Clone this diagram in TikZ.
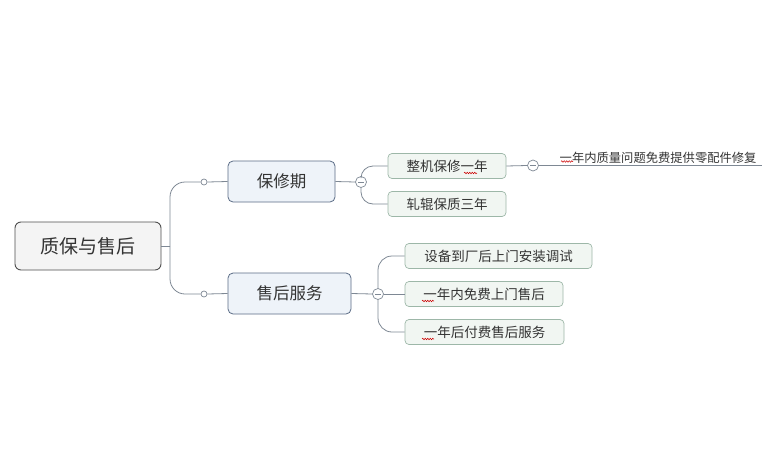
\documentclass[tikz,border=0pt]{standalone}
\usepackage{fontspec}
\setmainfont{Noto Sans CJK SC}
\usetikzlibrary{decorations.pathmorphing}
\definecolor{rootfill}{HTML}{F4F4F4}
\definecolor{rootdraw}{HTML}{4F4F4F}
\definecolor{brfill}{HTML}{EEF3F9}
\definecolor{brdraw}{HTML}{5B6C86}
\definecolor{chfill}{HTML}{F1F6F2}
\definecolor{chdraw}{HTML}{9DB7A8}
\definecolor{conncol}{HTML}{7E8894}
\definecolor{txt}{HTML}{333333}
\tikzset{
  rootbox/.style={draw=rootdraw, fill=rootfill, line width=0.9pt, rounded corners=6pt,
    minimum width=146pt, minimum height=48pt, inner sep=0pt, text=txt, font=\fontsize{19}{22}\selectfont},
  brbox/.style={draw=brdraw, fill=brfill, line width=0.8pt, rounded corners=5pt,
    minimum height=41pt, inner sep=0pt, text=txt, font=\fontsize{16.5}{20}\selectfont},
  chbox/.style={draw=chdraw, fill=chfill, line width=0.7pt, rounded corners=4pt,
    minimum height=25pt, inner sep=0pt, text=txt, font=\fontsize{13.5}{16}\selectfont},
  conn/.style={draw=conncol, line width=0.8pt},
  knob/.style={circle, draw=conncol, fill=white, line width=0.7pt, inner sep=0pt, minimum size=6pt},
  minusknob/.style={circle, draw=conncol, fill=white, line width=0.7pt, inner sep=0pt, minimum size=11pt,
    path picture={\draw[conncol, line width=0.8pt] ([xshift=-3pt]path picture bounding box.center) -- ([xshift=3pt]path picture bounding box.center);}},
  wavy/.style={draw=red!80!black, line width=0.5pt, decorate, decoration={snake, amplitude=0.8pt, segment length=2.5pt}},
}
\begin{document}
\begin{tikzpicture}[x=1pt, y=-1pt]
\useasboundingbox (0,0) rectangle (773,458);
\fill[white] (0,0) rectangle (773,458);

\node[rootbox] (root) at (88,246) {质保与售后};
\node[brbox, minimum width=107pt] (b1) at (281.5,181.5) {保修期};
\node[brbox, minimum width=123pt] (b2) at (289.5,293.5) {售后服务};

\node[chbox, minimum width=118pt] (c1) at (447,166) {整机保修一年};
\node[chbox, minimum width=118pt] (c2) at (447,204) {轧辊保质三年};
\node[chbox, minimum width=187pt] (d1) at (498.5,256) {设备到厂后上门安装调试};
\node[chbox, minimum width=158pt] (d2) at (484,294) {一年内免费上门售后};
\node[chbox, minimum width=159pt] (d3) at (484.5,332) {一年后付费售后服务};

\node[anchor=south west, inner sep=1.5pt, text=txt, font=\fontsize{12.3}{15}\selectfont] (t1) at (558,165.5) {一年内质量问题免费提供零配件修复};
\coordinate (u1) at (762,165.5);

\coordinate (j1) at (170,246);
\node[knob] (k1) at (204,182) {};
\node[knob] (k2) at (204,294) {};
\node[minusknob] (m1) at (361,182) {};
\node[minusknob] (m2) at (378,294) {};
\node[minusknob] (m3) at (533,165.5) {};

% root to branches
\draw[conn] (root.east) -- (j1);
\draw[conn, rounded corners=15pt] (j1) |- (k1.west);
\draw[conn, rounded corners=15pt] (j1) |- (k2.west);
\draw[conn] (k1.east) -- (b1.west);
\draw[conn] (k2.east) -- (b2.west);

% branch 1
\draw[conn] (b1.east) -- (m1.west);
\draw[conn, rounded corners=12pt] (m1.north) |- (c1.west);
\draw[conn, rounded corners=12pt] (m1.south) |- (c2.west);
\draw[conn] (c1.east) -- (m3.west);
\draw[conn] (m3.east) -- (u1);

% branch 2
\draw[conn] (b2.east) -- (m2.west);
\draw[conn, rounded corners=14pt] (m2.north) |- (d1.west);
\draw[conn] (m2.east) -- (d2.west);
\draw[conn, rounded corners=14pt] (m2.south) |- (d3.west);

% spell-check squiggles
\draw[wavy] (464,173) -- (477,173);
\draw[wavy] (561,161.5) -- (573,161.5);
\draw[wavy] (422,301) -- (434,301);
\draw[wavy] (422,339) -- (434,339);
\end{tikzpicture}
\end{document}
